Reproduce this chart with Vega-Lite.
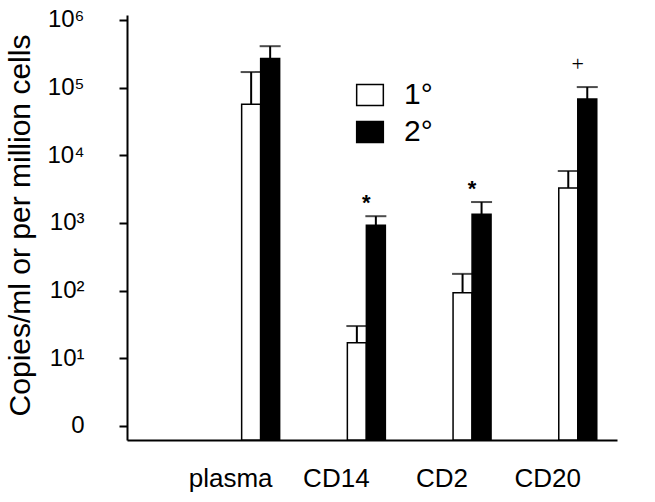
{
  "$schema": "https://vega.github.io/schema/vega-lite/v6.json",
  "width": 490,
  "height": 425,
  "autosize": "none",
  "padding": {"left": 127, "top": 15, "right": 38, "bottom": 62},
  "background": "white",
  "config": {"view": {"stroke": null}, "font": "Liberation Sans"},
  "data": {
    "values": [
      {"cell": "plasma", "series": "1°", "value": 57000, "err": 170000},
      {"cell": "plasma", "series": "2°", "value": 270000, "err": 410000},
      {"cell": "CD14", "series": "1°", "value": 17, "err": 30},
      {"cell": "CD14", "series": "2°", "value": 930, "err": 1260, "sig": "*"},
      {"cell": "CD2", "series": "1°", "value": 93, "err": 177},
      {"cell": "CD2", "series": "2°", "value": 1350, "err": 2040, "sig": "*"},
      {"cell": "CD20", "series": "1°", "value": 3300, "err": 5860},
      {"cell": "CD20", "series": "2°", "value": 68000, "err": 102000, "sig": "+"}
    ]
  },
  "encoding": {
    "x": {
      "field": "cell",
      "type": "nominal",
      "sort": ["plasma", "CD14", "CD2", "CD20"],
      "scale": {"paddingInner": 0.6405, "paddingOuter": 0.638, "align": 0.85},
      "axis": {
        "title": null,
        "labelAngle": 0,
        "ticks": false,
        "tickSize": 0,
        "labelPadding": 25,
        "labelOffset": -30,
        "labelFontSize": 26,
        "labelColor": "black",
        "domainColor": "black",
        "domainWidth": 2,
        "grid": false
      }
    }
  },
  "layer": [
    {
      "mark": {"type": "bar", "stroke": "black", "strokeWidth": 1.5},
      "encoding": {
        "xOffset": {"field": "series", "type": "nominal", "scale": {"paddingInner": 0, "paddingOuter": 0}},
        "y": {
          "field": "value",
          "type": "quantitative",
          "stack": null,
          "title": "Copies/ml or per million cells",
          "scale": {"type": "log", "domain": [0.621, 1185000], "nice": false},
          "axis": {
            "values": [1, 10, 100, 1000, 10000, 100000, 1000000],
            "labelExpr": "datum.value < 2 ? '0' : '10' + ['⁰','¹','²','³','⁴','⁵','⁶'][round(log(datum.value)/LN10)]",
            "grid": false,
            "tickSize": 8,
            "tickWidth": 2,
            "tickColor": "black",
            "domainColor": "black",
            "domainWidth": 2,
            "labelFontSize": 24,
            "labelColor": "black",
            "labelPadding": 35,
            "titleFontSize": 30,
            "titleFontWeight": "normal",
            "titleColor": "black",
            "titleX": -107,
            "titleY": 210,
            "titleAngle": -90,
            "titleAlign": "center",
            "titleBaseline": "middle"
          }
        },
        "fill": {
          "field": "series",
          "type": "nominal",
          "scale": {"domain": ["1°", "2°"], "range": ["white", "black"]},
          "legend": {
            "orient": "none",
            "legendX": 228,
            "legendY": 65,
            "title": null,
            "symbolType": "M-1.27,-1H1.27V1H-1.27Z",
            "symbolSize": 441,
            "symbolStrokeColor": "black",
            "symbolStrokeWidth": 1.5,
            "labelFontSize": 30,
            "labelColor": "black",
            "labelOffset": 19,
            "rowPadding": 7,
            "padding": 0
          }
        }
      }
    },
    {
      "mark": {"type": "rule", "strokeWidth": 2, "color": "black"},
      "encoding": {
        "xOffset": {"field": "series", "type": "nominal", "scale": {"paddingInner": 0, "paddingOuter": 0}},
        "y": {"field": "value", "type": "quantitative", "stack": null, "title": "Copies/ml or per million cells"},
        "y2": {"field": "err"}
      }
    },
    {
      "mark": {"type": "tick", "orient": "horizontal", "size": 21, "thickness": 2, "color": "black"},
      "encoding": {
        "xOffset": {"field": "series", "type": "nominal", "scale": {"paddingInner": 0, "paddingOuter": 0}},
        "y": {"field": "err", "type": "quantitative", "stack": null, "title": "Copies/ml or per million cells"}
      }
    },
    {
      "transform": [{"filter": "datum.sig == '*'"}],
      "mark": {"type": "text", "fontSize": 22, "fontWeight": "bold", "baseline": "alphabetic", "dy": -6, "color": "black"},
      "encoding": {
        "y": {"field": "err", "type": "quantitative", "stack": null, "title": "Copies/ml or per million cells"},
        "text": {"field": "sig"}
      }
    },
    {
      "transform": [{"filter": "datum.sig == '+'"}],
      "mark": {"type": "text", "fontSize": 22, "font": "Liberation Serif", "baseline": "alphabetic", "dy": -16, "color": "black"},
      "encoding": {
        "y": {"field": "err", "type": "quantitative", "stack": null, "title": "Copies/ml or per million cells"},
        "text": {"field": "sig"}
      }
    }
  ]
}
